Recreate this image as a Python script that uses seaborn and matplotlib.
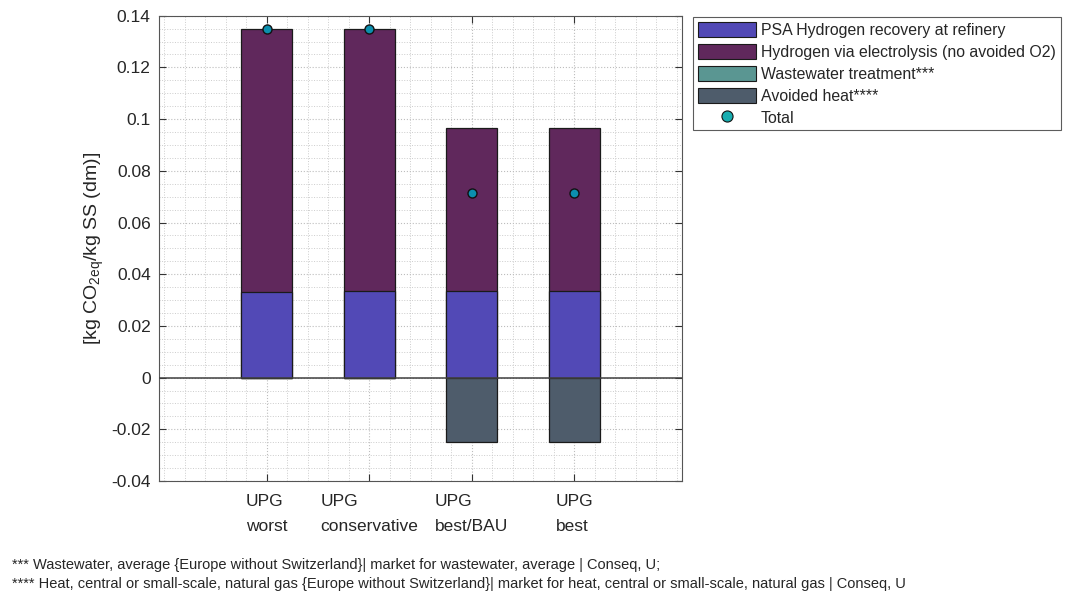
import numpy as np
import pandas as pd
import matplotlib
matplotlib.use("Agg")
import matplotlib.pyplot as plt
import seaborn as sns
from matplotlib.patches import Patch
from matplotlib.lines import Line2D
from matplotlib.ticker import MultipleLocator

# Scenario data (kg CO2-eq per kg SS dry matter)
scenarios = ["UPG\nworst", "UPG\nconservative", "UPG\nbest/BAU", "UPG\nbest"]
psa_recovery = [0.0333, 0.0335, 0.0335, 0.0335]
electrolysis = [0.1017, 0.1015, 0.0630, 0.0630]
wastewater = [0.0, 0.0, 0.0, 0.0]
avoided_heat = [0.0, 0.0, -0.0250, -0.0250]
total = [0.1350, 0.1350, 0.0715, 0.0715]

series_labels = [
    "PSA Hydrogen recovery at refinery",
    "Hydrogen via electrolysis (no avoided O2)",
    "Wastewater treatment***",
    "Avoided heat****",
    "Total",
]
footnotes = [
    "*** Wastewater, average {Europe without Switzerland}| market for wastewater, average | Conseq, U;",
    "**** Heat, central or small-scale, natural gas {Europe without Switzerland}| market for heat, central or small-scale, natural gas | Conseq, U",
]

colors = {
    "psa": "#5249b6",
    "elec": "#60285c",
    "ww": "#5a9692",
    "heat": "#4e5c6b",
    "total_plot": "#0b8fae",
    "total_leg": "#17adb0",
}

sns.set_theme(style="white")
plt.rcParams["font.family"] = ["Liberation Sans", "DejaVu Sans"]
plt.rcParams["mathtext.fontset"] = "custom"
plt.rcParams["mathtext.rm"] = "Liberation Sans"
plt.rcParams["mathtext.it"] = "Liberation Sans"

df = pd.DataFrame({
    "scenario": scenarios,
    "psa": psa_recovery,
    "elec": electrolysis,
    "ww": wastewater,
    "heat": avoided_heat,
    "total": total,
})
df["pos_top"] = df["psa"] + df["elec"]

fig = plt.figure(figsize=(10.65, 5.94), dpi=100)
ax = fig.add_axes([159 / 1065, 1 - 481 / 594, (682 - 159) / 1065, (481 - 15.7) / 594])

bar_kw = dict(order=scenarios, width=0.5, errorbar=None, edgecolor="#1a1a1a",
              linewidth=0.9, saturation=1, ax=ax)

# stacked positive part: cumulative top first, then lower layer on top of it
sns.barplot(data=df, x="scenario", y="pos_top", color=colors["elec"], **bar_kw)
sns.barplot(data=df, x="scenario", y="psa", color=colors["psa"], **bar_kw)
# negative contributions
sns.barplot(data=df, x="scenario", y="heat", color=colors["heat"], **bar_kw)

ax.axhline(0, color="#404040", linewidth=1.1, zorder=3)

sns.stripplot(data=df, x="scenario", y="total", order=scenarios, jitter=False,
              color=colors["total_plot"], size=6.5, edgecolor="#111111",
              linewidth=1.0, ax=ax, zorder=5)

ax.set_xlim(-1.05, 4.05)
ax.set_ylim(-0.04, 0.14)
ax.yaxis.set_minor_locator(MultipleLocator(0.005))
ax.xaxis.set_minor_locator(MultipleLocator(0.2))
ax.set_yticks(np.arange(-0.04, 0.1401, 0.02))
ax.set_yticklabels(["-0.04", "-0.02", "0", "0.02", "0.04", "0.06", "0.08",
                    "0.1", "0.12", "0.14"], fontsize=12.5)
ax.set_xticks(range(len(scenarios)))
ax.set_xticklabels(scenarios, fontsize=12.5, linespacing=1.85, multialignment="left")
ax.set_xlabel("")
ax.set_ylabel(r"[kg CO$_{\mathrm{2eq}}$/kg SS (dm)]", fontsize=14, labelpad=4)

ax.set_axisbelow(True)
ax.grid(which="major", color="#bdbdbd", linestyle=":", linewidth=0.8)
ax.grid(which="minor", color="#cccccc", linestyle=":", linewidth=0.7)
ax.tick_params(which="major", direction="in", length=5, width=0.8, color="#333333",
               top=True, right=True, bottom=True, left=True, pad=6)
ax.tick_params(which="minor", length=0)
ax.tick_params(axis="x", pad=9)
for sp in ax.spines.values():
    sp.set_color("#555555")
    sp.set_linewidth(0.8)
    sp.set_visible(True)

handles = [
    Patch(facecolor=colors["psa"], edgecolor="#1a1a1a", linewidth=0.8),
    Patch(facecolor=colors["elec"], edgecolor="#1a1a1a", linewidth=0.8),
    Patch(facecolor=colors["ww"], edgecolor="#1a1a1a", linewidth=0.8),
    Patch(facecolor=colors["heat"], edgecolor="#1a1a1a", linewidth=0.8),
    Line2D([], [], linestyle="none", marker="o", markersize=8,
           markerfacecolor=colors["total_leg"], markeredgecolor="#111111",
           markeredgewidth=0.8),
]
leg = fig.legend(handles, series_labels, loc="upper left",
                 bbox_to_anchor=(693 / 1065, 1 - 17 / 594), fontsize=11.4,
                 frameon=True, fancybox=False, edgecolor="#333333",
                 handlelength=3.7, handleheight=1.15, handletextpad=0.3,
                 labelspacing=0.36, borderpad=0.3, borderaxespad=0)
leg.get_frame().set_linewidth(0.8)

fig.text(12 / 1065, 1 - 565 / 594, footnotes[0], fontsize=10.5, va="center", ha="left")
fig.text(12 / 1065, 1 - 584 / 594, footnotes[1], fontsize=10.5, va="center", ha="left")

fig.savefig("out.png", dpi=100)
